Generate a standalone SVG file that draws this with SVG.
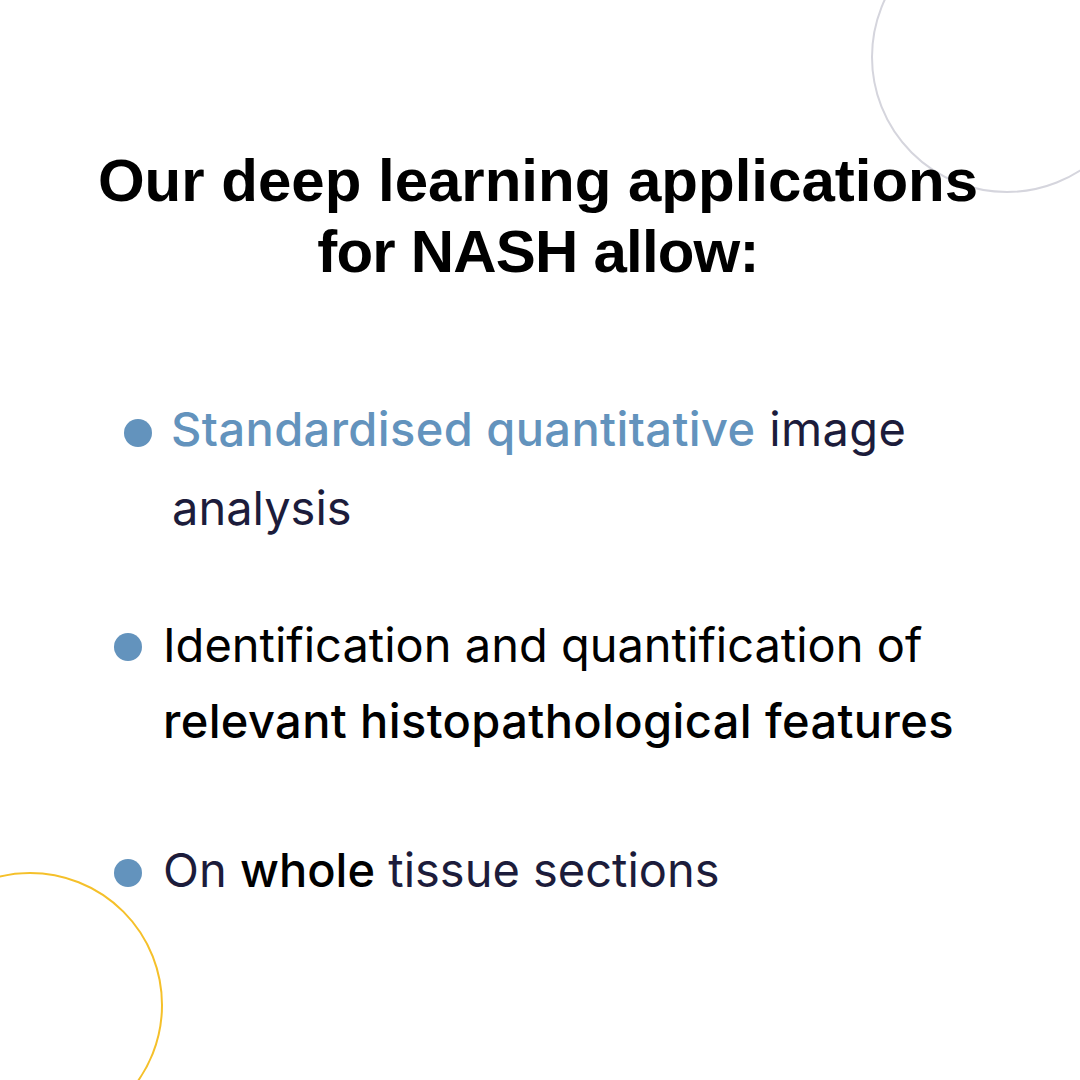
<svg xmlns="http://www.w3.org/2000/svg" width="1080" height="1080" viewBox="0 0 1080 1080">
<style>
.title{font-family:"Liberation Sans",Arial,sans-serif;font-weight:700;font-size:60px;fill:#000;text-anchor:middle}
.body{font-family:Inter,"Noto Sans",sans-serif;font-size:47px;fill:#1c1c3b}
.blue{fill:#6393bd;font-weight:500}
.blk{fill:#000;font-weight:500}
.dot{fill:#6393bd}
.deco{fill:none;stroke-width:2}
</style>
<rect width="1080" height="1080" fill="#fff"/>
<g id="decor">
<circle class="deco" cx="1007" cy="57" r="135" stroke="#d5d5dd"/>
<circle class="deco" cx="30" cy="1005" r="132" stroke="#f5c02a"/>
</g>
<g id="title">
<text class="title" x="538" y="201">Our deep learning applications</text>
<text class="title" x="538" y="272" letter-spacing="-0.8">for NASH allow:</text>
</g>
<g id="bullet1">
<circle class="dot" cx="138" cy="433" r="14"/>
<text class="body" x="171" y="446" letter-spacing="0.4"><tspan class="blue">Standardised quantitative</tspan> image</text>
<text class="body" x="172" y="525">analysis</text>
</g>
<g id="bullet2">
<circle class="dot" cx="128" cy="647" r="14"/>
<text class="body" x="163" y="662" style="fill:#000">Identification and quantification of</text>
<text class="body blk" x="163" y="738" letter-spacing="0.38">relevant histopathological features</text>
</g>
<g id="bullet3">
<circle class="dot" cx="128" cy="873" r="14"/>
<text class="body" x="163" y="887">On <tspan class="blk">whole</tspan> tissue sections</text>
</g>
</svg>
